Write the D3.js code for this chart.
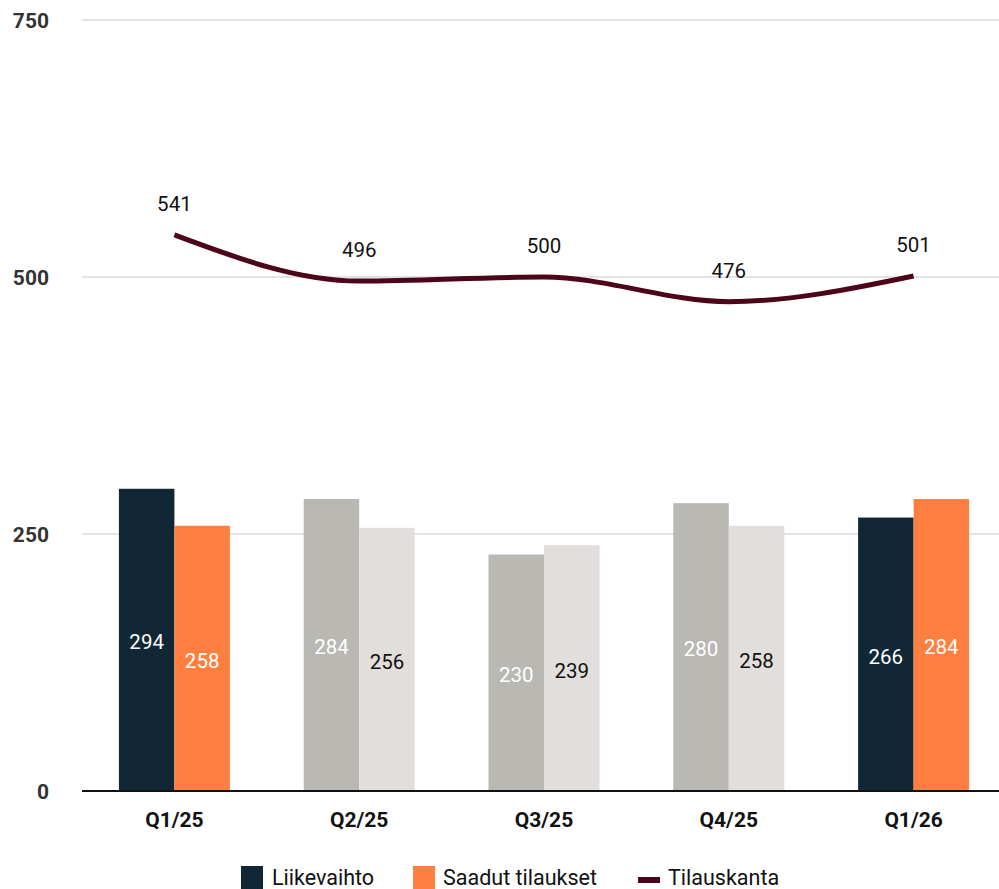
<!DOCTYPE html>
<html>
<head>
<meta charset="utf-8">
<script src="https://cdn.jsdelivr.net/npm/d3@7"></script>
<style>
  html, body { margin: 0; padding: 0; background: #fff; }
  svg { display: block; font-family: Roboto, "Noto Sans", sans-serif; }
</style>
</head>
<body>
<svg id="chart" width="999" height="889"></svg>
<script>
// Quarterly figures (MEUR)
const quarters = ["Q1/25", "Q2/25", "Q3/25", "Q4/25", "Q1/26"];
const liikevaihto = [294, 284, 230, 280, 266];
const saadutTilaukset = [258, 256, 239, 258, 284];
const tilauskanta = [541, 496, 500, 476, 501];
const yTicks = [0, 250, 500, 750];
const seriesNames = ["Liikevaihto", "Saadut tilaukset", "Tilauskanta"];

// Highlighted quarters use brand colours, the rest are muted
const highlighted = ["Q1/25", "Q1/26"];
const colors = {
  revDark: "#112735", revMuted: "#B9B8B3",
  ordDark: "#FF7F41", ordMuted: "#E1DEDB",
  line: "#4D0519"
};

const svg = d3.select("#chart");

const x = d3.scaleBand()
  .domain(quarters)
  .range([82, 1006])
  .paddingInner(0.4)
  .paddingOuter(0.2);

const y = d3.scaleLinear().domain([0, 750]).range([791, 20]);

const groupW = 111;
const barW = groupW / 2;
const center = q => x(q) + x.bandwidth() / 2;

// Gridlines
svg.append("g")
  .selectAll("line")
  .data(yTicks.filter(t => t > 0))
  .join("line")
  .attr("x1", 82).attr("x2", 999)
  .attr("y1", d => y(d)).attr("y2", d => y(d))
  .attr("stroke", "#e3e3e3").attr("stroke-width", 2);

// Y axis labels
svg.append("g")
  .selectAll("text")
  .data(yTicks)
  .join("text")
  .attr("x", 49).attr("y", d => y(d))
  .attr("dy", "0.36em")
  .attr("text-anchor", "end")
  .attr("font-size", 21).attr("font-weight", 700)
  .attr("fill", "#333")
  .text(d => d);

// Bars
const rows = quarters.map((q, i) => ({
  q, rev: liikevaihto[i], ord: saadutTilaukset[i], hi: highlighted.includes(q)
}));

const g = svg.append("g");
rows.forEach(r => {
  const cx = center(r.q);
  const bars = [
    { v: r.rev, x0: cx - barW, fill: r.hi ? colors.revDark : colors.revMuted, label: "#fff" },
    { v: r.ord, x0: cx, fill: r.hi ? colors.ordDark : colors.ordMuted, label: r.hi ? "#fff" : "#111" }
  ];
  bars.forEach(b => {
    g.append("rect")
      .attr("x", b.x0).attr("y", y(b.v))
      .attr("width", barW).attr("height", y(0) - y(b.v))
      .attr("fill", b.fill);
    g.append("text")
      .attr("x", b.x0 + barW / 2)
      .attr("y", (y(b.v) + y(0)) / 2 + 2)
      .attr("dy", "0.36em")
      .attr("text-anchor", "middle")
      .attr("font-size", 20.5)
      .attr("fill", b.label)
      .text(b.v);
  });
});

// Baseline
svg.append("line")
  .attr("x1", 82).attr("x2", 999)
  .attr("y1", y(0)).attr("y2", y(0))
  .attr("stroke", "#111").attr("stroke-width", 2);

// Category labels
svg.append("g")
  .selectAll("text")
  .data(quarters)
  .join("text")
  .attr("x", d => center(d)).attr("y", 819)
  .attr("dy", "0.36em")
  .attr("text-anchor", "middle")
  .attr("font-size", 21).attr("font-weight", 700)
  .attr("fill", "#111")
  .text(d => d);

// Order backlog line
const linePts = quarters.map((q, i) => [center(q), y(tilauskanta[i])]);
svg.append("path")
  .attr("d", d3.line().curve(d3.curveMonotoneX)(linePts))
  .attr("fill", "none")
  .attr("stroke", colors.line)
  .attr("stroke-width", 5);

svg.append("g")
  .selectAll("text")
  .data(quarters)
  .join("text")
  .attr("x", d => center(d))
  .attr("y", (d, i) => y(tilauskanta[i]) - 31)
  .attr("dy", "0.36em")
  .attr("text-anchor", "middle")
  .attr("font-size", 20.5)
  .attr("fill", "#111")
  .text((d, i) => tilauskanta[i]);

// Legend
const legend = svg.append("g").attr("font-size", 21.5).attr("fill", "#111");
const legendItems = [
  { name: seriesNames[0], x: 241, tx: 272, type: "rect", color: colors.revDark },
  { name: seriesNames[1], x: 413, tx: 443, type: "rect", color: colors.ordDark },
  { name: seriesNames[2], x: 638, tx: 668, type: "line", color: colors.line }
];
legendItems.forEach(it => {
  if (it.type === "rect") {
    legend.append("rect").attr("x", it.x).attr("y", 866)
      .attr("width", 22).attr("height", 23).attr("fill", it.color);
  } else {
    legend.append("rect").attr("x", it.x).attr("y", 877)
      .attr("width", 22).attr("height", 6).attr("fill", it.color);
  }
  legend.append("text")
    .attr("x", it.tx).attr("y", 877)
    .attr("dy", "0.36em")
    .text(it.name);
});
</script>
</body>
</html>
